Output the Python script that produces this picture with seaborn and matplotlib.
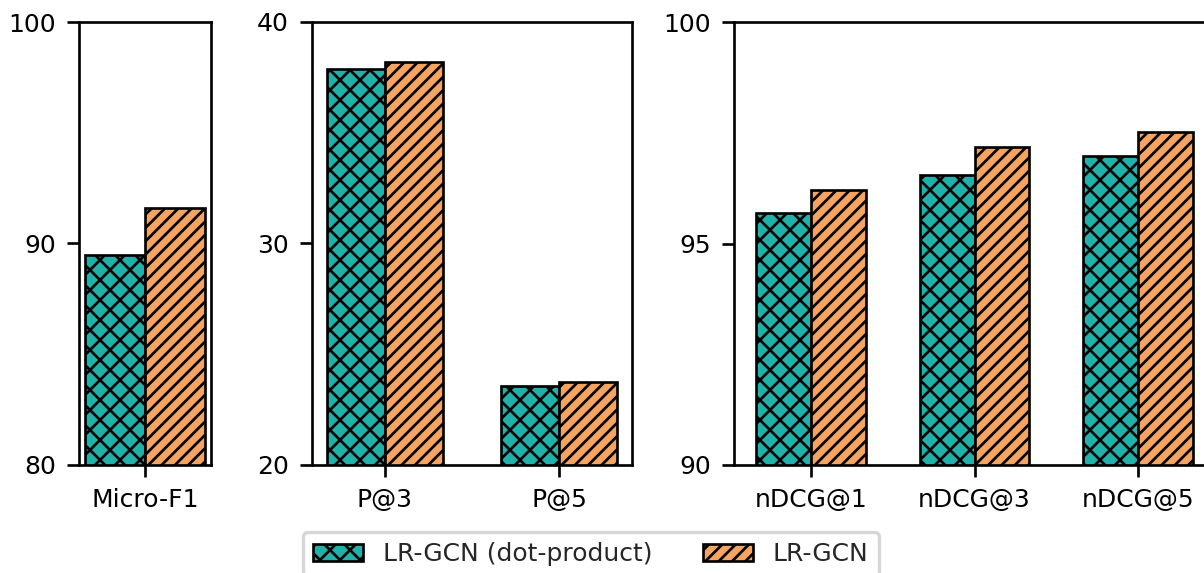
import matplotlib
matplotlib.use("Agg")
import matplotlib.pyplot as plt
from matplotlib.patches import Patch
import seaborn as sns
import pandas as pd

methods = ["LR-GCN (dot-product)", "LR-GCN"]
colors = ["#20B2AA", "#F4A460"]
hatches = ["xxxx", "//////"]

cats1 = ["Micro-F1"]
dot1 = [89.5]
lr1 = [91.6]

cats2 = ["P@3", "P@5"]
dot2 = [37.9, 23.56]
lr2 = [38.2, 23.73]

cats3 = ["nDCG@1", "nDCG@3", "nDCG@5"]
dot3 = [95.69, 96.54, 96.98]
lr3 = [96.21, 97.18, 97.52]

ylims = [(80, 100), (20, 40), (90, 100)]
yticks = [[80, 90, 100], [20, 30, 40], [90, 95, 100]]

sns.set_style("ticks")
plt.rcParams["font.family"] = ["DejaVu Sans"]
plt.rcParams["font.size"] = 7.5
plt.rcParams["hatch.linewidth"] = 0.8
plt.rcParams["axes.linewidth"] = 0.8

W, H, DPI = 1204, 573, 240
fig = plt.figure(figsize=(W / DPI, H / DPI), dpi=DPI)

px = lambda l, w: [l / W, (H - 465) / H, w / W, 443 / H]
positions = [px(79, 132), px(312, 320), px(734, 481)]

panels = [(cats1, dot1, lr1), (cats2, dot2, lr2), (cats3, dot3, lr3)]
group_w = 0.67
for i, (cats, d, l) in enumerate(panels):
    ax = fig.add_axes(positions[i])
    df = pd.DataFrame({
        "metric": cats * 2,
        "value": d + l,
        "method": [methods[0]] * len(cats) + [methods[1]] * len(cats),
    })
    sns.barplot(data=df, x="metric", y="value", hue="method", hue_order=methods,
                palette=colors, width=group_w, edgecolor="black", linewidth=0.8,
                saturation=1, legend=False, ax=ax)
    n = len(cats)
    for j, bar in enumerate(ax.patches[: 2 * n]):
        bar.set_hatch(hatches[j // n])
        bar.set_edgecolor("black")
    span = n - 1 + group_w
    ax.set_xlim(-group_w / 2 - 0.05 * span, n - 1 + group_w / 2 + 0.05 * span)
    ax.set_ylim(*ylims[i])
    ax.set_yticks(yticks[i])
    ax.set_xlabel("")
    ax.set_ylabel("")
    ax.tick_params(labelsize=7.5, width=0.8, length=3.5, colors="black")
    for s in ax.spines.values():
        s.set_visible(True)
        s.set_color("black")
        s.set_linewidth(0.8)

handles = [Patch(facecolor=colors[k], edgecolor="black", hatch=hatches[k],
                 linewidth=0.8, label=methods[k]) for k in range(2)]
fig.legend(handles=handles, loc="upper center", bbox_to_anchor=(591 / W, (H - 532) / H),
           ncol=2, fontsize=7.5, frameon=True, borderaxespad=0)

fig.savefig("out.png", dpi=DPI)
